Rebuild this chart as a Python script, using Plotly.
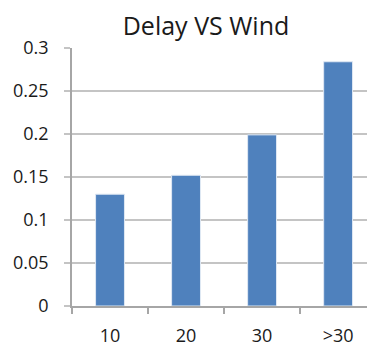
import plotly.graph_objects as go

# Wind speed buckets and the delay rate observed in each
categories = ["10", "20", "30", ">30"]
delay_rate = [0.130, 0.152, 0.199, 0.284]
y_ticks = [0, 0.05, 0.1, 0.15, 0.2, 0.25, 0.3]
y_tick_labels = ["0", "0.05", "0.1", "0.15", "0.2", "0.25", "0.3"]

FONT = "Open Sans"
AXIS_GRAY = "#a6a6a6"
GRID_GRAY = "#c4c4c4"
BAR_BLUE = "#4f81bd"

fig = go.Figure(
    go.Bar(
        x=categories,
        y=delay_rate,
        marker=dict(color=BAR_BLUE, line=dict(color="#dfe8f3", width=1)),
    )
)

fig.update_layout(
    width=367,
    height=347,
    margin=dict(l=72, r=0, t=48, b=39),
    paper_bgcolor="white",
    plot_bgcolor="white",
    bargap=0.62,
    showlegend=False,
    title=dict(
        text="Delay VS Wind",
        x=206 / 367,
        xref="container",
        xanchor="center",
        y=1 - 26 / 347,
        yref="container",
        yanchor="middle",
        font=dict(family=FONT, size=25, color="#1a1a1a"),
    ),
    font=dict(family=FONT, size=18, color="#1a1a1a"),
)

fig.update_xaxes(
    type="category",
    range=[-0.5, 3.38],
    showgrid=False,
    showline=True,
    linecolor=AXIS_GRAY,
    linewidth=1.5,
    ticks="outside",
    tickson="boundaries",
    ticklen=6,
    tickcolor=AXIS_GRAY,
    tickwidth=1.5,
    ticklabelstandoff=13,
    tickfont=dict(family=FONT, size=18, color="#1a1a1a"),
    fixedrange=True,
)

fig.update_yaxes(
    range=[0, 0.3],
    tickvals=y_ticks,
    ticktext=y_tick_labels,
    showgrid=True,
    gridcolor=GRID_GRAY,
    gridwidth=1.5,
    zeroline=False,
    showline=True,
    linecolor=AXIS_GRAY,
    linewidth=1.5,
    ticks="outside",
    ticklen=6,
    tickcolor=GRID_GRAY,
    tickwidth=1.5,
    ticklabelstandoff=12,
    tickfont=dict(family=FONT, size=18, color="#1a1a1a"),
    fixedrange=True,
)

fig.write_html("out.html", config={"displayModeBar": False})
